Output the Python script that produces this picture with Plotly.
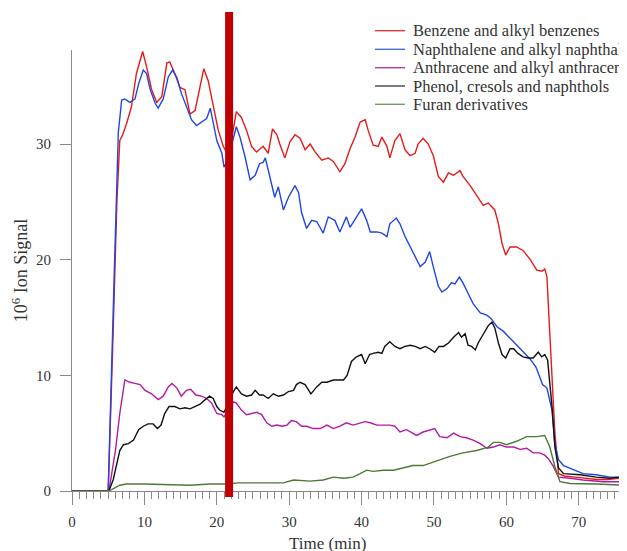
import plotly.graph_objects as go

# ---------------- data ----------------
series_names = [
    "Benzene and alkyl benzenes",
    "Naphthalene and alkyl naphthal",
    "Anthracene and alkyl anthracen",
    "Phenol, cresols and naphthols",
    "Furan derivatives",
]

t_benzene = [0, 5.0, 5.6, 6.2, 6.6, 7.0, 7.55, 8.2, 8.9, 9.4, 9.76, 10.3, 11.0, 11.7, 12.4, 13.1, 13.5, 14.2,
             14.9, 15.6, 16.3, 17.0, 17.7, 18.2, 18.8, 19.5, 20.2, 20.9, 21.4, 22.1, 22.7, 23.4, 24.1, 24.8,
             25.5, 26.4, 27.1, 27.7, 28.3, 28.7, 29.4, 30.1, 30.8, 31.5, 32.2, 32.9, 33.6, 34.5, 35.4, 36.1,
             37.0, 37.7, 38.4, 39.1, 39.8, 40.5, 40.9, 41.6, 42.3, 42.8, 43.5, 43.9, 44.6, 45.3, 46.0, 46.7,
             47.4, 47.8, 48.5, 49.2, 49.9, 50.6, 51.3, 52.0, 52.7, 53.6, 54.0, 55.0, 55.9, 56.8, 57.5, 58.4,
             58.9, 59.4, 59.9, 60.5, 61.4, 62.3, 63.3, 64.2, 64.9, 65.3, 65.6, 66.2, 66.7, 67.2, 68.0, 69.5,
             71.0, 72.5, 74.0, 75.5, 76.6]
v_benzene = [0, 0, 12, 25, 30.3, 30.8, 31.8, 33.2, 36.1, 37.2, 38.0, 36.7, 34.7, 33.6, 34.1, 37.0, 37.1, 36.1,
             34.9, 34.7, 32.6, 32.9, 35.2, 36.5, 35.5, 33.2, 31.2, 29.8, 29.2, 30.6, 32.8, 32.3, 31.2, 29.8,
             29.3, 29.8, 29.2, 31.3, 30.8, 30.0, 28.8, 30.2, 30.8, 30.5, 29.5, 30.0, 29.3, 28.6, 28.8, 28.5,
             27.6, 28.3, 29.6, 30.6, 31.9, 32.1, 31.2, 29.9, 29.8, 30.6, 29.8, 28.8, 30.3, 30.9, 29.5, 29.0,
             29.2, 30.0, 30.5, 30.0, 29.0, 27.2, 26.7, 27.5, 27.3, 27.7, 27.2, 26.4, 25.6, 24.7, 24.9, 24.3,
             23.1, 21.4, 20.4, 21.1, 21.1, 20.8, 20.0, 19.1, 19.0, 19.2, 18.5, 11.5, 5.0, 1.5, 1.3, 1.2,
             1.1, 1.0, 1.0, 1.1, 1.0]

t_naphth = [0, 5.0, 5.8, 6.4, 6.86, 7.3, 8.0, 8.7, 9.2, 9.85, 10.3, 10.8, 11.5, 11.9, 12.6, 13.3, 13.9, 14.5,
            15.1, 15.8, 16.5, 17.2, 17.9, 18.6, 19.1, 19.5, 20.0, 20.7, 21.0, 21.5, 22.1, 22.7, 23.2, 23.9,
            24.6, 25.3, 25.9, 26.4, 26.7, 27.3, 28.0, 28.5, 29.2, 29.9, 30.8, 31.3, 31.7, 32.4, 33.1, 33.8,
            34.7, 35.4, 36.3, 37.0, 37.9, 38.4, 39.3, 40.0, 40.7, 41.2, 42.1, 42.8, 43.5, 43.9, 44.8, 45.3,
            46.0, 46.7, 47.4, 48.1, 48.8, 49.4, 49.9, 50.6, 51.1, 51.8, 52.4, 52.9, 53.5, 54.0, 54.7, 55.4,
            56.4, 57.3, 57.9, 58.7, 59.6, 60.5, 61.4, 62.3, 63.3, 64.1, 64.6, 65.0, 65.6, 66.3, 66.7, 67.2,
            67.9, 69.3, 70.6, 72.4, 74.3, 75.5, 76.6]
v_naphth = [0, 0, 18, 31, 33.8, 33.9, 33.6, 33.9, 35.2, 36.4, 36.1, 34.7, 33.5, 33.1, 33.9, 35.8, 36.4, 35.7,
            34.4, 33.2, 32.1, 31.6, 31.9, 32.2, 33.1, 31.8, 30.3, 29.2, 28.0, 28.6, 30.0, 31.5, 30.6, 28.9,
            26.9, 27.3, 28.3, 28.4, 28.8, 27.2, 25.4, 26.3, 24.3, 25.4, 26.4, 25.8, 24.1, 22.7, 23.4, 23.3,
            22.3, 23.7, 23.4, 22.4, 23.7, 22.8, 23.7, 24.4, 23.4, 22.4, 22.4, 22.3, 22.0, 23.1, 23.6, 23.1,
            22.0, 21.1, 20.3, 19.4, 19.8, 20.7, 19.4, 17.7, 17.2, 17.5, 18.0, 17.9, 18.5, 18.0, 17.1, 16.2,
            15.4, 15.2, 14.9, 14.2, 13.8, 13.2, 12.6, 12.0, 11.4, 10.7, 9.8, 9.2, 8.9, 7.0, 4.1, 2.7,
            2.2, 1.8, 1.5, 1.4, 1.2, 1.2, 1.4]

t_anthr = [0, 5.1, 6.0, 6.6, 7.3, 8.0, 8.7, 9.4, 10.1, 11.0, 11.9, 12.6, 13.3, 13.8, 14.5, 15.1, 15.8, 16.4,
           17.1, 17.9, 18.6, 19.3, 20.0, 20.7, 21.0, 21.6, 22.3, 22.7, 23.4, 24.1, 24.8, 25.5, 26.2, 26.9,
           27.6, 28.3, 29.0, 29.7, 30.3, 31.0, 31.7, 32.4, 33.3, 34.3, 35.2, 36.1, 37.0, 37.9, 38.8, 39.8,
           40.5, 41.2, 42.1, 43.0, 43.9, 44.6, 45.3, 46.2, 47.1, 47.6, 48.5, 49.4, 50.1, 50.8, 51.8, 52.7,
           53.6, 54.5, 55.4, 56.4, 57.3, 58.2, 59.1, 60.0, 61.0, 61.9, 62.8, 63.7, 64.6, 65.3, 65.8, 66.5,
           67.2, 68.8, 70.6, 73.4, 76.6]
v_anthr = [0, 0, 3.5, 6.7, 9.6, 9.4, 9.3, 9.2, 8.7, 8.4, 7.9, 8.2, 9.0, 9.3, 8.9, 8.2, 8.7, 8.8,
           8.3, 8.2, 8.0, 7.6, 6.7, 6.6, 6.4, 7.0, 7.7, 7.6, 7.0, 6.6, 6.7, 6.8, 6.6, 5.9,
           5.6, 5.7, 5.6, 5.7, 6.1, 6.0, 5.6, 5.6, 5.4, 5.4, 5.7, 5.4, 5.6, 5.9, 5.7, 5.9,
           6.0, 5.9, 5.7, 5.7, 5.7, 5.6, 5.1, 5.3, 5.0, 4.8, 5.1, 5.3, 5.4, 4.7, 4.6, 5.0,
           4.7, 4.6, 4.4, 4.1, 3.7, 3.8, 4.0, 3.8, 3.8, 3.6, 3.7, 3.3, 3.3, 3.1, 2.8, 2.1,
           1.2, 1.1, 0.95, 0.8, 0.8]

t_phenol = [0, 5.1, 5.7, 6.2, 6.6, 7.1, 7.8, 8.5, 9.2, 9.85, 10.5, 11.2, 11.8, 12.3, 12.8, 13.4, 14.2, 14.9,
            15.6, 16.3, 17.0, 17.7, 18.4, 19.0, 19.5, 20.0, 20.4, 21.0, 21.6, 22.3, 22.7, 23.4, 24.1, 24.8,
            25.3, 25.9, 26.4, 27.1, 27.8, 28.5, 29.2, 29.9, 30.6, 31.0, 31.5, 32.2, 33.0, 33.8, 34.5, 35.2,
            36.1, 36.8, 37.5, 38.0, 38.6, 39.3, 40.0, 40.5, 41.1, 41.6, 42.3, 42.8, 43.2, 43.9, 44.6, 45.3,
            46.0, 46.7, 47.4, 48.1, 48.8, 49.4, 50.1, 50.7, 51.3, 52.0, 52.7, 53.4, 53.8, 54.3, 54.7, 55.2,
            55.7, 56.1, 56.8, 57.5, 58.0, 58.4, 58.9, 59.4, 59.9, 60.5, 61.0, 61.6, 62.3, 63.0, 63.7, 64.4,
            64.9, 65.3, 65.7, 66.3, 66.7, 67.2, 67.9, 70.2, 72.4, 74.3, 75.5, 76.6]
v_phenol = [0, 0, 1.0, 2.4, 3.5, 4.0, 4.1, 4.4, 5.3, 5.6, 5.8, 5.8, 5.4, 5.7, 6.7, 7.3, 7.3, 7.1,
            7.2, 7.1, 7.3, 7.5, 7.9, 8.2, 8.0, 7.3, 7.0, 6.8, 7.6, 8.6, 9.0, 8.4, 8.2, 8.3,
            8.7, 8.3, 8.3, 8.0, 8.4, 8.2, 8.3, 8.6, 8.7, 9.2, 9.4, 9.2, 8.4, 9.0, 9.4, 9.4,
            9.6, 9.6, 9.6, 10.0, 11.2, 11.6, 11.8, 11.0, 11.8, 11.9, 12.0, 11.9, 12.5, 12.9, 12.5, 12.3,
            12.5, 12.6, 12.5, 12.3, 12.5, 12.3, 12.0, 12.5, 12.5, 12.8, 13.3, 13.7, 13.3, 13.6, 12.6, 12.5,
            12.2, 12.8, 13.6, 14.3, 14.6, 14.1, 12.8, 11.8, 11.5, 12.3, 12.3, 11.9, 11.6, 11.5, 11.5, 12.0,
            11.6, 11.8, 11.3, 7.3, 3.8, 2.0, 1.5, 1.4, 1.2, 1.1, 1.2, 1.4]

t_furan = [0, 5.1, 6.6, 7.5, 10, 13, 16.3, 19, 21.4, 23, 25.5, 26.9, 29.2, 30.6, 32.9, 34.7, 36.1, 37.5,
           38.8, 39.8, 40.7, 41.6, 43.0, 44.4, 45.8, 47.1, 48.5, 49.7, 50.8, 52.2, 54.0, 55.9, 57.5, 58.2,
           59.1, 60.0, 61.4, 62.8, 64.2, 65.3, 66.0, 66.7, 67.4, 68.8, 72.4, 76.6]
v_furan = [0, 0, 0.5, 0.6, 0.6, 0.55, 0.5, 0.6, 0.6, 0.7, 0.7, 0.65, 0.7, 0.95, 0.85, 0.95, 1.2, 1.1,
           1.2, 1.5, 1.8, 1.7, 1.8, 1.8, 2.0, 2.2, 2.2, 2.45, 2.7, 3.0, 3.3, 3.5, 3.8, 4.2,
           4.2, 4.0, 4.3, 4.7, 4.7, 4.8, 3.8, 2.1, 0.8, 0.65, 0.6, 0.5]

marker_time = 21.7          # red vertical marker (min)
x_tick_vals = [0, 10, 20, 30, 40, 50, 60, 70]
y_tick_vals = [0, 10, 20, 30]

# ---------------- layout geometry (figure pixels) ----------------
W, H = 619, 543                     # page body has an 8px margin
ML, MR, MT, MB = 64, 0, 42, 60
PW, PH = W - ML - MR, H - MT - MB


def px_x(fx):
    return (fx - ML) / PW


def px_y(fy):
    return (H - MB - fy) / PH


colors = ["#e41b1b", "#2046e0", "#b21aa2", "#111111", "#4c7a34"]
legend_colors = ["#e83a3a", "#4a6fe0", "#b43aa8", "#444444", "#7a9a6c"]
times = [t_benzene, t_naphth, t_anthr, t_phenol, t_furan]
values = [v_benzene, v_naphth, v_anthr, v_phenol, v_furan]

FONT = "Liberation Serif, Times New Roman, serif"
TXT = "#333333"

fig = go.Figure()
for name, tt, vv, c in zip(series_names, times, values, colors):
    fig.add_trace(go.Scatter(x=tt, y=vv, mode="lines", name=name,
                             line=dict(color=c, width=1.4), showlegend=False))

# red vertical marker
fig.add_shape(type="line", xref="x", yref="paper",
              x0=marker_time, x1=marker_time, y0=px_y(489), y1=px_y(4),
              line=dict(color="#c00000", width=8), layer="above")

# legend (drawn by hand for the tight row spacing of the original)
row_y = [22.7, 41.3, 59.7, 78.0, 96.3]
for name, c, ry in zip(series_names, legend_colors, row_y):
    fig.add_shape(type="line", xref="paper", yref="paper",
                  x0=px_x(367), x1=px_x(397), y0=px_y(ry), y1=px_y(ry),
                  line=dict(color=c, width=1.4))
    fig.add_annotation(text=name, xref="paper", yref="paper",
                       x=px_x(403), y=px_y(ry), xanchor="left", yanchor="middle",
                       showarrow=False, font=dict(family=FONT, size=16.5, color=TXT))

fig.add_annotation(text="Time (min)", xref="paper", yref="paper",
                   x=px_x(319), y=px_y(535), xanchor="center", yanchor="middle",
                   showarrow=False, font=dict(family=FONT, size=17, color=TXT))

fig.update_layout(
    width=W, height=H,
    margin=dict(l=ML, r=MR, t=MT, b=MB, autoexpand=False),
    paper_bgcolor="white", plot_bgcolor="white",
    font=dict(family=FONT, size=15, color=TXT),
    showlegend=False,
    xaxis=dict(range=[0, 76.66], showgrid=False, zeroline=False,
               showline=True, linecolor="#8a8a8a", linewidth=1,
               tickvals=x_tick_vals, ticks="outside", ticklen=13, tickcolor="#8a8a8a",
               ticklabelstandoff=4,
               minor=dict(dtick=1, ticks="outside", ticklen=7, tickcolor="#8a8a8a"),
               tickfont=dict(family=FONT, size=15, color=TXT)),
    yaxis=dict(range=[0, 38.13], showgrid=False, zeroline=False,
               showline=True, linecolor="#8a8a8a", linewidth=1,
               tickvals=y_tick_vals, ticks="outside", ticklen=11, tickcolor="#8a8a8a",
               ticklabelstandoff=6,
               tickfont=dict(family=FONT, size=15, color=TXT),
               title=dict(text="10<sup>6</sup> Ion Signal", standoff=3,
                          font=dict(family=FONT, size=18, color=TXT))),
)

fig.write_html("out.html")
